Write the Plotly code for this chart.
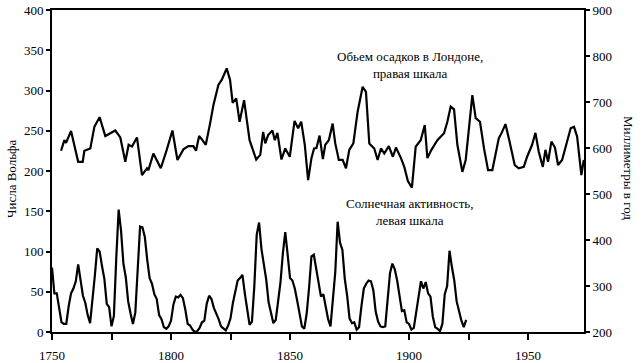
import plotly.graph_objects as go

# Sunspot (Wolf) numbers, left scale
sun_years = list(range(1750, 1925))
sun_values = [
    80, 48, 48, 31, 12, 10, 10, 32, 48, 54,
    63, 84, 61, 45, 36, 21, 11, 38, 70, 104,
    100, 82, 66, 35, 31, 7, 20, 92, 152, 126,
    85, 68, 38, 23, 10, 24, 83, 131, 130, 118,
    90, 67, 60, 47, 41, 21, 16, 6, 4, 7,
    14, 34, 44, 43, 46, 42, 28, 10, 8, 3,
    0, 1, 5, 12, 14, 35, 45, 41, 30, 24,
    16, 7, 4, 2, 8, 17, 36, 50, 64, 67,
    71, 48, 28, 9, 13, 57, 121, 136, 103, 86,
    65, 37, 24, 11, 15, 40, 62, 98, 124, 96,
    67, 64, 54, 39, 21, 7, 4, 23, 55, 94,
    96, 77, 59, 44, 47, 31, 16, 7, 38, 74,
    137, 111, 102, 66, 45, 17, 11, 12, 3, 6,
    32, 54, 60, 64, 63, 52, 25, 13, 7, 6,
    7, 36, 73, 85, 78, 64, 42, 26, 27, 12,
    10, 3, 5, 24, 42, 63, 54, 62, 48, 44,
    19, 6, 4, 1, 10, 47, 57, 101, 81, 64,
    38, 26, 14, 6, 15,
]

# Annual rainfall in London (mm), right scale
rain_years = [
    1753.8, 1755.2, 1755.9, 1758.0, 1761.0, 1762.9, 1763.6, 1766.1, 1767.8, 1770.0,
    1772.4, 1776.6, 1778.7, 1780.8, 1782.2, 1783.6, 1785.7, 1787.8, 1789.9, 1790.5,
    1792.6, 1795.7, 1798.2, 1800.6, 1802.7, 1805.2, 1807.3, 1809.4, 1810.5, 1811.8,
    1813.2, 1814.6, 1816.4, 1817.8, 1819.9, 1821.3, 1823.4, 1824.8, 1825.9, 1827.4,
    1828.8, 1830.7, 1833.0, 1835.8, 1837.5, 1838.7, 1839.6, 1840.8, 1842.6, 1843.6,
    1844.7, 1846.4, 1848.0, 1849.9, 1851.9, 1853.4, 1854.7, 1856.2, 1857.6, 1859.0,
    1860.1, 1861.1, 1862.4, 1863.8, 1864.8, 1866.3, 1867.9, 1869.0, 1870.5, 1872.1,
    1873.5, 1874.9, 1876.6, 1878.4, 1880.5, 1881.9, 1883.3, 1885.4, 1886.8, 1888.2,
    1889.6, 1891.5, 1893.2, 1894.5, 1896.6, 1898.0, 1899.5, 1901.2, 1902.8, 1904.9,
    1906.6, 1907.7, 1909.4, 1911.9, 1914.7, 1916.1, 1917.5, 1918.9, 1920.3, 1922.4,
    1923.8, 1926.6, 1928.0, 1929.8, 1931.5, 1933.2, 1935.0, 1936.4, 1937.7, 1939.1,
    1940.5, 1942.1, 1944.4, 1946.1, 1948.2, 1949.6, 1951.7, 1953.1, 1954.5, 1956.2,
    1957.3, 1958.4, 1959.8, 1961.3, 1962.6, 1964.3, 1965.7, 1967.9, 1969.3, 1970.6,
    1972.4, 1973.4,
]
rain_values = [
    594, 617, 611, 637, 570, 570, 594, 599, 646, 667,
    626, 638, 623, 570, 607, 603, 623, 541, 556, 552,
    588, 556, 596, 638, 574, 597, 604, 604, 594, 626,
    617, 607, 653, 693, 737, 748, 773, 748, 698, 708,
    657, 704, 617, 575, 585, 635, 610, 628, 638, 617,
    633, 575, 599, 581, 659, 643, 657, 607, 530, 578,
    599, 600, 627, 576, 607, 617, 653, 610, 574, 574,
    556, 596, 610, 679, 733, 722, 610, 599, 574, 599,
    588, 604, 581, 601, 578, 559, 528, 514, 603, 617,
    650, 578, 596, 617, 632, 657, 690, 684, 607, 548,
    574, 715, 665, 657, 599, 552, 552, 586, 621, 635,
    652, 617, 563, 556, 559, 581, 607, 633, 592, 559,
    596, 570, 614, 601, 563, 574, 599, 643, 646, 625,
    541, 574,
]

x_tick_vals = [1750, 1800, 1850, 1900, 1950]
x_tick_text = ["1750", "1800", "1850", "1900", "1950"]
left_tick_vals = [0, 50, 100, 150, 200, 250, 300, 350, 400]
right_tick_vals = [200, 300, 400, 500, 600, 700, 800, 900]

FONT = "Liberation Serif"
L, R, T, B = 52, 58, 10, 31
W, H = 642, 363

fig = go.Figure()
fig.add_trace(go.Scatter(x=rain_years, y=rain_values, yaxis="y2", mode="lines",
                         line=dict(color="black", width=2.2), showlegend=False))
fig.add_trace(go.Scatter(x=sun_years, y=sun_values, yaxis="y", mode="lines",
                         line=dict(color="black", width=2.2), showlegend=False))

fig.update_layout(
    width=W, height=H,
    margin=dict(l=L, r=R, t=T, b=B),
    paper_bgcolor="white", plot_bgcolor="white",
    font=dict(family=FONT, size=13, color="black"),
    xaxis=dict(range=[1750, 1973.5], showgrid=False, zeroline=False,
               automargin=False,
               showline=True, linecolor="black", linewidth=2, mirror=True,
               tickvals=x_tick_vals, ticktext=x_tick_text,
               ticks="outside", ticklen=6, tickwidth=1.5, tickcolor="black",
               minor=dict(dtick=25, tick0=1750, ticks="outside", ticklen=6,
                          tickwidth=1.5, tickcolor="black"),
               ticklabelstandoff=4),
    yaxis=dict(range=[0, 400], showgrid=False, zeroline=False,
               automargin=False,
               showline=True, linecolor="black", linewidth=2,
               tickvals=left_tick_vals, ticks="outside", ticklen=4,
               tickwidth=1.5, tickcolor="black"),
    yaxis2=dict(range=[200, 900], overlaying="y", side="right",
                showgrid=False, zeroline=False, automargin=False,
                showline=True, linecolor="black", linewidth=2,
                tickvals=right_tick_vals, ticks="outside", ticklen=4,
                tickwidth=1.5, tickcolor="black"),
)

pw = W - L - R
ph = H - T - B


def px_ann(text, x, y, angle=0):
    return dict(text=text, x=(x - L) / pw, y=(H - B - y) / ph,
                xref="paper", yref="paper", xanchor="center", yanchor="middle",
                textangle=angle, showarrow=False,
                font=dict(family=FONT, size=13, color="black"))


fig.update_layout(annotations=[
    px_ann("Обьем осадков в Лондоне,<br>правая шкала", 410, 65),
    px_ann("Солнечная активность,<br>левая шкала", 410, 212),
    px_ann("Числа Вольфа", 11, 179, -90),
    px_ann("Миллиметры в год", 629, 168, 90),
])

fig.write_html("out.html", config={"displayModeBar": False},
               post_script="document.body.style.margin='0';document.body.style.overflow='hidden';")
